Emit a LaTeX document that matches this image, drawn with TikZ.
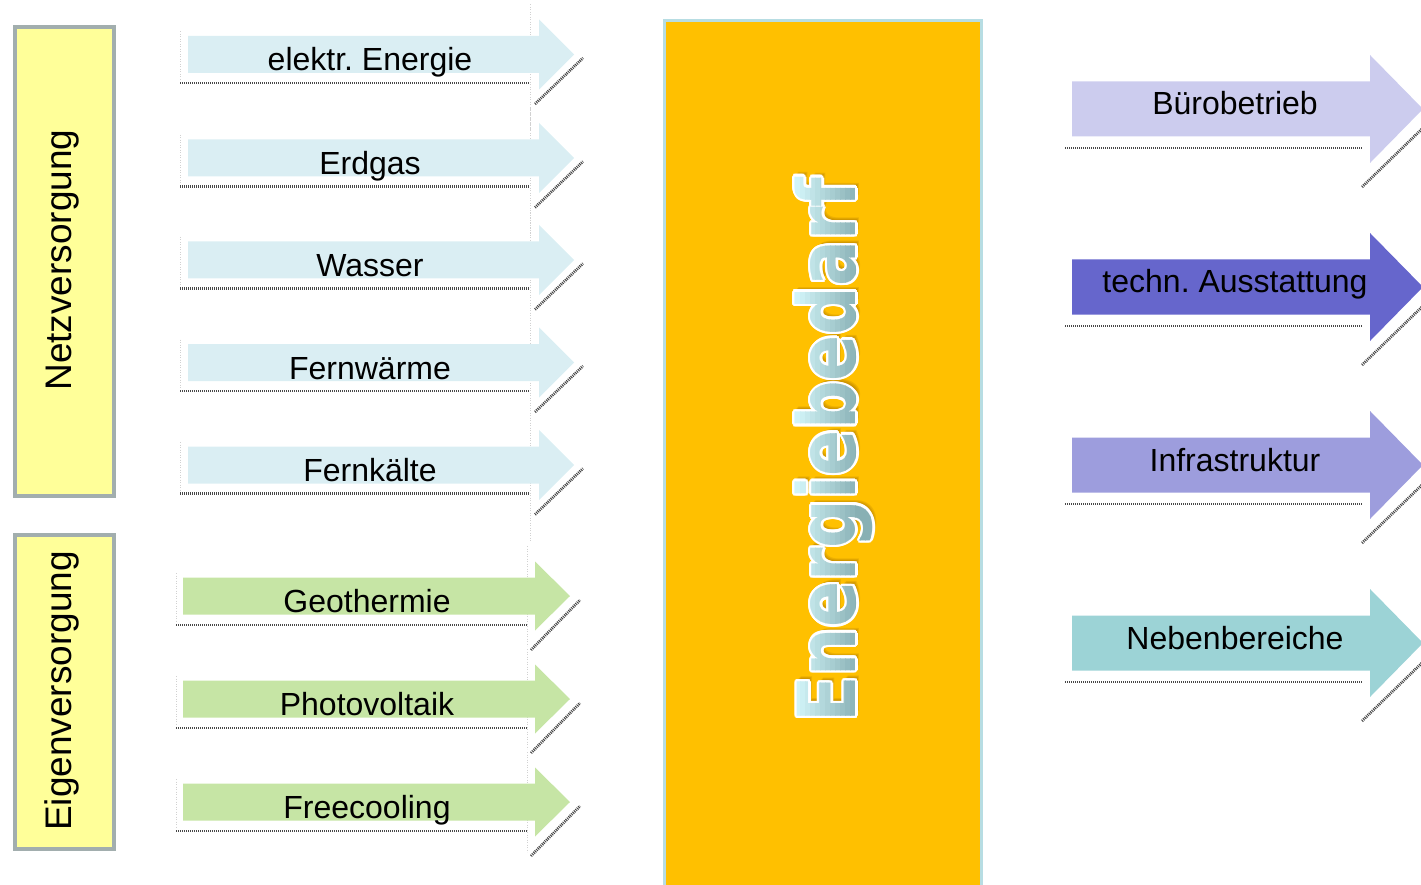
\documentclass[tikz,border=0pt]{standalone}
\usepackage{fontspec}
\usepackage{graphicx}
\setmainfont{Liberation Sans}
\newfontfamily\wordfont{DejaVu Sans}
\frenchspacing

\definecolor{netzfill}{HTML}{FFFF99}
\definecolor{boxline}{HTML}{A2AEAE}
\definecolor{supplyblue}{HTML}{DAEEF3}
\definecolor{ownsupply}{HTML}{C6E5A5}
\definecolor{demandgold}{HTML}{FFC000}
\definecolor{demandline}{HTML}{B7DDE3}
\definecolor{useone}{HTML}{CCCCEE}
\definecolor{usetwo}{HTML}{6666CC}
\definecolor{usethree}{HTML}{9D9DDD}
\definecolor{usefour}{HTML}{9CD3D6}
\definecolor{wordlight}{HTML}{D8FAFE}
\definecolor{worddark}{HTML}{88B0B4}
\definecolor{wordshadow}{HTML}{B88200}

% one arrow: shaft, head, its shadow strokes and its label
% group settings: \arX shaft left, \arB head base, \arT tip, \arS half shaft, \arH half head,
% \hatchL/\hatchR/\hatchY lower shadow line, \diagXa/\diagYa/\diagXb/\diagYb head shadow, \lbX/\lbY label
\newcommand\flowarrow[4]{%
  \fill[#3] (\arX,#2-\arS) -- (\arB,#2-\arS) -- (\arB,#2-\arH) -- (\arT,#2)
    -- (\arB,#2+\arH) -- (\arB,#2+\arS) -- (\arX,#2+\arS) -- cycle;
  \draw[hatch] (\hatchL,#2+\hatchY) -- (\hatchR,#2+\hatchY);
  \draw[hatch] (\diagXa,#2+\diagYa) -- (\diagXb,#2+\diagYb);
  \node[flowlabel] (#1) at (\lbX,#2+\lbY) {#4};
}
% faint guide strokes beside the supply arrows
\newcommand\flowguides[1]{%
  \draw[guide] (\guideL,#1-23) -- (\guideL,#1+26);
  \draw[guide] (\guideR,#1-50) -- (\guideR,#1+\guideRb);
}
\newcommand\demandword{\scalebox{0.85}[1]{Energiebedarf}}

\begin{document}
\begin{tikzpicture}[x=1pt, y=-1pt,
  hatch/.style={draw=black!72, line width=2.8pt, dash pattern=on 1pt off 1pt},
  guide/.style={draw=black!18, line width=0.5pt, dotted},
  flowlabel/.style={anchor=base, inner sep=0pt, font=\fontsize{32}{32}\selectfont},
  sidebox/.style={draw=boxline, line width=4pt, fill=netzfill, inner sep=0pt},
  sidelabel/.style={anchor=base, rotate=90, inner sep=0pt, font=\fontsize{37}{37}\selectfont},
  wordstyle/.style={rotate=90, inner sep=0pt, anchor=center,
        font=\wordfont\bfseries\fontsize{80}{80}\selectfont}]

\useasboundingbox (0,0) rectangle (1421,885);
\clip (0,0) rectangle (1421,885);

% supply groups on the left
\node[sidebox, minimum width=99pt, minimum height=469pt] (netzbox) at (64.5,261.5) {};
\node[sidelabel] (netzlabel) at (71,260) {Netzversorgung};
\node[sidebox, minimum width=99pt, minimum height=314pt] (eigenbox) at (64.5,692) {};
\node[sidelabel] (eigenlabel) at (71,691) {Eigenversorgung};

% grid supply arrows
\begin{scope}
  \def\arX{188}\def\arB{539}\def\arT{574}\def\arS{18.5}\def\arH{35}
  \def\hatchL{180}\def\hatchR{530}\def\hatchY{28.5}
  \def\diagXa{535}\def\diagYa{49.5}\def\diagXb{583}\def\diagYb{3.5}
  \def\lbX{370}\def\lbY{16.5}
  \def\guideL{180}\def\guideR{530}\def\guideRb{76}
  \foreach \yy in {54.5,158,260,362.5,465}{\flowguides{\yy}}
  \flowarrow{elektr}{54.5}{supplyblue}{elektr. Energie}
  \flowarrow{erdgas}{158}{supplyblue}{Erdgas}
  \flowarrow{wasser}{260}{supplyblue}{Wasser}
  \flowarrow{fernwaerme}{362.5}{supplyblue}{Fernwärme}
  \flowarrow{fernkaelte}{465}{supplyblue}{Fernkälte}
\end{scope}

% own supply arrows
\begin{scope}
  \def\arX{183}\def\arB{535}\def\arT{570}\def\arS{18.5}\def\arH{34.5}
  \def\hatchL{176}\def\hatchR{527}\def\hatchY{29}
  \def\diagXa{531}\def\diagYa{54}\def\diagXb{580}\def\diagYb{4}
  \def\lbX{367}\def\lbY{16}
  \def\guideL{176}\def\guideR{527}\def\guideRb{50}
  \foreach \yy in {596,699,802}{\flowguides{\yy}}
  \flowarrow{geothermie}{596}{ownsupply}{Geothermie}
  \flowarrow{photovoltaik}{699}{ownsupply}{Photovoltaik}
  \flowarrow{freecooling}{802}{ownsupply}{Freecooling}
\end{scope}

% central demand block
\node[draw=demandline, line width=3pt, fill=demandgold, inner sep=0pt,
      minimum width=317pt, minimum height=866pt] (demand) at (823,453.5) {};

% lettering: soft shadow, white rim, then a banded cyan-to-teal face
\foreach \dx/\dy/\op [count=\k] in {5/-4/0.25, 4/-3/0.35, 3/-2/0.35}
  \node[wordstyle, text=wordshadow, opacity=\op, shift={(\dx pt,\dy pt)}] (wordshade\k) at (834,450)
    {\demandword};
\foreach \ang [count=\k] in {0,22.5,...,337.5}
  \node[wordstyle, text=white, shift={(\ang:2.4pt)}] (wordring\k) at (834,450) {\demandword};
\foreach \k in {0,...,17}{
  \pgfmathsetmacro\bandmix{max(0,100-\k*100/13)}
  \begin{scope}
    \clip ({790+\k*5},150) rectangle ({795.6+\k*5},750);
    \node[wordstyle, text=wordlight!\bandmix!worddark] (wordband\k) at (834,450) {\demandword};
  \end{scope}
}

% demand arrows on the right
\begin{scope}
  \def\arX{1072}\def\arB{1370}\def\arT{1423}\def\arS{27.5}\def\arH{54}
  \def\hatchL{1065}\def\hatchR{1362}\def\hatchY{39}
  \def\diagXa{1362}\def\diagYa{78}\def\diagXb{1426}\def\diagYb{16}
  \def\lbX{1235}\def\lbY{6}
  \flowarrow{buero}{109}{useone}{Bürobetrieb}
  \flowarrow{technik}{287}{usetwo}{techn. Ausstattung}
  \flowarrow{infra}{465}{usethree}{Infrastruktur}
  \flowarrow{neben}{643}{usefour}{Nebenbereiche}
\end{scope}

\end{tikzpicture}
\end{document}
